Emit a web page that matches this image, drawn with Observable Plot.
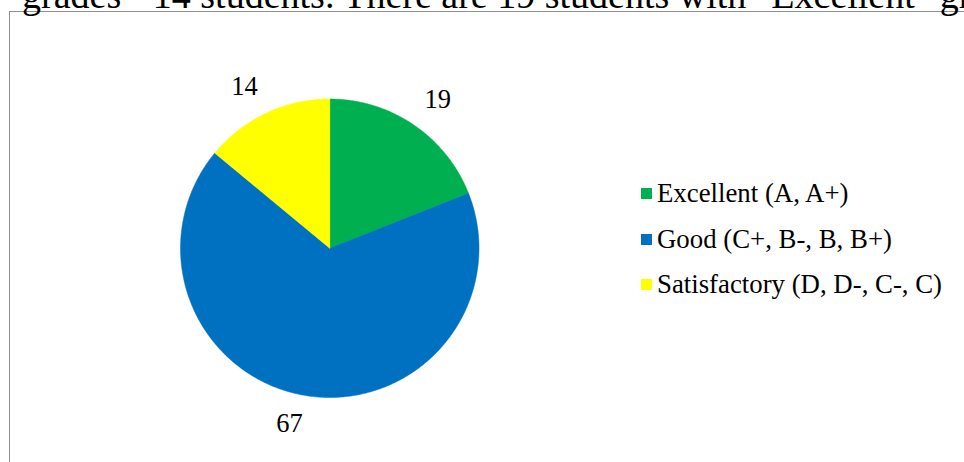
<!DOCTYPE html>
<html>
<head>
<meta charset="utf-8">
<script src="https://cdn.jsdelivr.net/npm/d3@7"></script>
<script src="https://cdn.jsdelivr.net/npm/@observablehq/plot@0.6"></script>
<style>
  html, body { margin: 0; padding: 0; background: #fff; }
  #wrap { position: relative; width: 964px; height: 462px; overflow: hidden; font-family: "Liberation Serif", "Times New Roman", serif; }
  #frame { position: absolute; left: 9px; top: 11px; width: 1000px; height: 500px; border: 1px solid #8f8f8f; box-sizing: border-box; }
  #title { position: absolute; left: 22px; top: -27px; font-size: 38px; line-height: normal; white-space: nowrap; color: #000; font-family: "Liberation Serif", "Times New Roman", serif; }
  #chart { position: absolute; left: 0; top: 0; }
  #legend { position: absolute; left: 641px; top: 0; }
  .row { position: absolute; left: 0; white-space: nowrap; font-size: 26.8px; line-height: 30px; height: 30px; display: flex; align-items: center; color: #000; font-family: "Liberation Serif", "Times New Roman", serif; }
  .sw { width: 11px; height: 11px; margin-right: 5px; display: inline-block; }
</style>
</head>
<body>
<div id="wrap">
  <div id="frame"></div>
  <div id="title"></div>
  <div id="chart"></div>
  <div id="legend"></div>
</div>
<script>
const titleText = 'grades - 14 students. There are 19 students with "Excellent" grades';
const categories = ["Excellent (A, A+)", "Good (C+, B-, B, B+)", "Satisfactory (D, D-, C-, C)"];
const counts = [19, 67, 14];
const colors = ["#00B050", "#0070C0", "#FFFF00"];

document.getElementById("title").textContent = titleText;

const arcs = d3.pie().sort(null).value(d => d)(counts);

// Slice outlines on the unit circle (y up), built from the pie angles
const slicePts = [];
arcs.forEach((a, i) => {
  const cat = categories[i];
  slicePts.push({cat, x: 0, y: 0});
  const n = Math.max(2, Math.ceil((a.endAngle - a.startAngle) / (Math.PI / 360)));
  for (let k = 0; k <= n; k++) {
    const t = a.startAngle + (a.endAngle - a.startAngle) * k / n;
    slicePts.push({cat, x: Math.sin(t), y: Math.cos(t)});
  }
  slicePts.push({cat, x: 0, y: 0});
});

// Outside-end labels: anchor just beyond the rim, box pushed outward
const pxPerUnit = 149;
const labelR = 1.12, halfW = 14 / pxPerUnit, halfH = 10 / pxPerUnit;
const labels = arcs.map((a, i) => {
  const m = (a.startAngle + a.endAngle) / 2;
  const s = Math.sin(m), c = Math.cos(m);
  return {
    cat: categories[i],
    value: counts[i],
    x: s * labelR + Math.sign(s) * halfW,
    y: c * labelR + Math.sign(c) * halfH
  };
});

const chart = Plot.plot({
  width: 964,
  height: 462,
  margin: 0,
  x: {domain: [-1, 1], range: [180, 478.5], axis: null},
  y: {domain: [-1, 1], range: [397, 98.5], axis: null},
  color: {domain: categories, range: colors},
  style: {background: "transparent", fontFamily: "'Liberation Serif', 'Times New Roman', serif"},
  marks: [
    Plot.line(slicePts, {x: "x", y: "y", z: "cat", fill: "cat", stroke: "cat", strokeWidth: 0.5, curve: "linear"}),
    Plot.text(labels, {x: "x", y: "y", text: "value", fontSize: 26.5, fill: "#000"})
  ]
});
document.getElementById("chart").appendChild(chart);

const legend = document.getElementById("legend");
const rowCenters = [193, 239, 284];
categories.forEach((c, i) => {
  const row = document.createElement("div");
  row.className = "row";
  row.style.top = (rowCenters[i] - 15) + "px";
  const sw = document.createElement("span");
  sw.className = "sw";
  sw.style.background = colors[i];
  const tx = document.createElement("span");
  tx.textContent = c;
  row.appendChild(sw);
  row.appendChild(tx);
  legend.appendChild(row);
});
</script>
</body>
</html>
